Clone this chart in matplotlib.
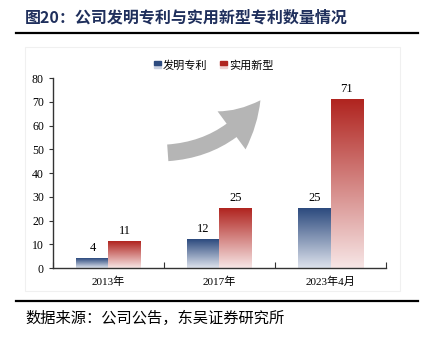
import numpy as np
import matplotlib
matplotlib.use("Agg")
import matplotlib.pyplot as plt
from matplotlib.colors import LinearSegmentedColormap
from matplotlib.patches import FancyArrowPatch, Rectangle
from matplotlib.lines import Line2D
from matplotlib.legend_handler import HandlerBase

categories = ["2013年", "2017年", "2023年4月"]
invention = [4, 12, 25]
utility = [11, 25, 71]
series_names = ["发明专利", "实用新型"]

FONTS = ["Liberation Serif", "Noto Sans CJK SC", "DejaVu Sans"]
plt.rcParams["font.family"] = FONTS

blue_cmap = LinearSegmentedColormap.from_list("b", ["#dde2ec", "#2c4a7e"])
red_cmap = LinearSegmentedColormap.from_list("r", ["#f7e6e6", "#b0241f"])

fig = plt.figure(figsize=(4.29, 3.39), dpi=100)
ax = fig.add_axes([0.1235, 0.2094, 0.7763, 0.5605])

x = np.arange(len(categories))
w = 0.29
b1 = ax.bar(x - w / 2, invention, w, color="none", label=series_names[0])
b2 = ax.bar(x + w / 2, utility, w, color="none", label=series_names[1])

grad = np.linspace(0, 1, 256).reshape(-1, 1)
for bars, cmap in ((b1, blue_cmap), (b2, red_cmap)):
    for p in bars:
        x0, h = p.get_x(), p.get_height()
        ax.imshow(grad, cmap=cmap, origin="lower", aspect="auto",
                  extent=[x0, x0 + p.get_width(), 0, h], zorder=2)
        ax.text(x0 + p.get_width() / 2, h + 2, str(int(h)), ha="center",
                va="bottom", fontsize=9, family="Liberation Serif")

ax.set_xlim(-0.5, len(categories) - 0.5)
ax.set_ylim(0, 80)
ax.set_yticks(range(0, 81, 10))
ax.set_xticks(np.arange(len(categories) + 1) - 0.5)
ax.set_xticklabels([])
ax.set_xticks(x, minor=True)
ax.set_xticklabels(categories, minor=True)
ax.tick_params(axis="x", which="minor", length=0, pad=6, labelsize=8)
ax.tick_params(axis="x", which="major", length=4, direction="in", color="#333333")
ax.tick_params(axis="y", length=3, direction="out", labelsize=8.5, color="#333333")
for s in ("top", "right"):
    ax.spines[s].set_visible(False)
for s in ("left", "bottom"):
    ax.spines[s].set_color("#333333")
    ax.spines[s].set_linewidth(1.0)


class GradHandler(HandlerBase):
    def __init__(self, top, bottom):
        super().__init__()
        self.top, self.bottom = top, bottom

    def create_artists(self, legend, orig_handle, xd, yd, width, height, fontsize, trans):
        s = height * 0.9
        x0 = xd + width - s
        y0 = yd + (height - s) / 2
        r1 = Rectangle((x0, y0 + s / 2), s, s / 2, color=self.top, transform=trans)
        r2 = Rectangle((x0, y0), s, s / 2, color=self.bottom, transform=trans)
        return [r2, r1]


leg = ax.legend([b1, b2], series_names, loc="lower center",
                bbox_to_anchor=(0.48, 0.985), ncol=2, frameon=False,
                fontsize=8, handlelength=0.8, handletextpad=0.2, columnspacing=1.0,
                prop={"family": ["Noto Sans CJK SC"], "size": 8},
                handler_map={b1: GradHandler("#2c4a7e", "#c9d0e0"),
                             b2: GradHandler("#b0241f", "#efcfcf")})

# decorative growth arrow
arrow = FancyArrowPatch((165 / 429, 1 - 153 / 339), (262 / 429, 1 - 98 / 339),
                        transform=fig.transFigure,
                        connectionstyle="arc3,rad=0.25",
                        arrowstyle="simple,head_width=34,head_length=30,tail_width=12",
                        mutation_scale=1, color="#b5b5b5", lw=0, zorder=5)
fig.add_artist(arrow)

# frame / rules
fig.add_artist(Rectangle((25 / 429, 1 - 291 / 339), 375 / 429, 244 / 339,
                         transform=fig.transFigure, fill=False,
                         edgecolor="#f0f0f0", lw=0.8, zorder=0))
fig.add_artist(Line2D([16 / 429, 418 / 429], [1 - 33 / 339] * 2,
                      transform=fig.transFigure, color="black", lw=1.6))
fig.add_artist(Line2D([16 / 429, 418 / 429], [1 - 301 / 339] * 2,
                      transform=fig.transFigure, color="black", lw=1.6))

fig.text(25 / 429, 1 - 17 / 339, "图20：公司发明专利与实用新型专利数量情况",
         fontsize=11.5, fontweight="bold", color="#1f2f5c", va="center",
         family=["Noto Sans CJK SC"])
fig.text(25 / 429, 1 - 318 / 339, "数据来源：公司公告，东吴证券研究所",
         fontsize=11, color="black", va="center", family=["Noto Sans CJK SC"])

fig.savefig("out.png", dpi=100)
